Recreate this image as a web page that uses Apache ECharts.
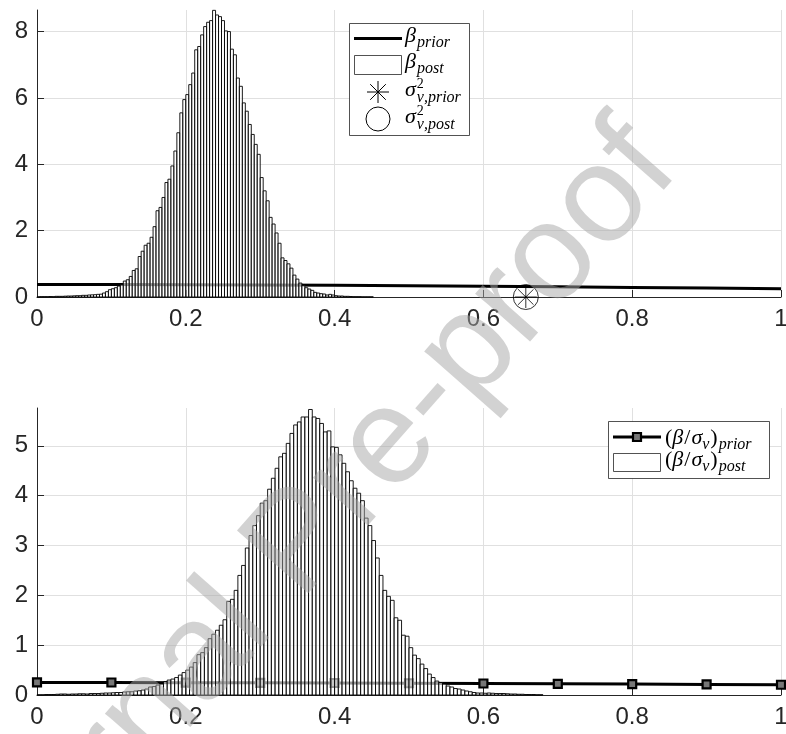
<!DOCTYPE html>
<html>
<head>
<meta charset="utf-8">
<script src="https://cdn.jsdelivr.net/npm/echarts@6/dist/echarts.min.js"></script>
<style>
html,body{margin:0;padding:0;background:#fff;}
#c{width:786px;height:734px;}
</style>
</head>
<body>
<div id="c"></div>
<script>
// ---------------- data ----------------
const xTickValues = [0, 0.2, 0.4, 0.6, 0.8, 1];
const yTickValuesTop = [0, 2, 4, 6, 8];
const yTickValuesBottom = [0, 1, 2, 3, 4, 5];

// top panel: posterior histogram of beta (bin width 0.004 starting at 0)
const betaPostBinStart = 0;
const betaPostBinWidth = 0.004;
const betaPostDensity = [
  0.005,0.01,0.01,0.01,0.015,0.01,0.02,0.02,0.02,0.025,
  0.03,0.03,0.035,0.04,0.04,0.05,0.05,0.06,0.065,0.07,
  0.08,0.085,
  0.12,0.16,0.22,0.25,0.28,0.33,0.37,0.48,0.52,0.62,
  0.8,0.85,1.22,1.38,1.56,1.62,1.8,2.12,2.6,2.7,
  3.0,3.45,3.55,
  3.95,4.4,4.95,5.55,5.95,6.1,6.4,6.75,7.45,7.55,
  7.9,8.15,8.28,8.33,8.64,8.5,8.45,8.33,8.02,8.0,
  7.47,7.3,6.6,6.35,5.85,5.6,5.2,4.9,4.6,4.3,
  3.6,3.2,2.9,2.4,2.2,1.93,1.62,1.18,1.1,1.0,
  0.87,0.66,0.54,0.42,0.35,0.28,0.24,0.2,0.14,0.12,
  0.1,0.09,0.06,0.08,0.06,0.04,0.03,0.03,0.02,0.02,
  0.015,0.01,0.01,0.01,0.005,0.005,0.005,0.005
];
// top panel: prior density of beta
const betaPriorX = [0, 0.1, 0.2, 0.3, 0.4, 0.5, 0.6, 0.7, 0.8, 0.9, 1];
const betaPriorDensity = [0.375,0.373,0.369,0.361,0.351,0.339,0.324,0.308,0.290,0.271,0.251];
// top panel: sigma^2 prior / posterior markers
const sigmaPriorPoint = [0.657, 0];
const sigmaPostPoint = [0.657, 0];

// bottom panel: posterior histogram of beta/sigma (bin width 0.005 starting at 0)
const ratioPostBinStart = 0;
const ratioPostBinWidth = 0.005;
const ratioPostDensity = [
  0.005,0.005,0.01,0.01,0.01,0.015,0.02,0.02,0.015,0.02,
  0.02,0.025,0.025,0.02,0.03,0.03,0.03,0.035,0.04,0.04,
  0.045,0.05,0.05,0.06,0.065,0.065,0.08,0.085,0.1,0.12,
  0.16,0.17,0.2,0.22,0.27,0.3,0.32,0.35,0.4,0.45,
  0.5,0.56,0.65,0.81,0.85,0.95,1.13,1.22,1.3,1.4,
  1.51,1.88,1.92,2.1,2.4,2.6,2.95,3.2,3.4,3.6,
  3.85,3.9,4.13,4.35,4.55,4.78,4.85,5.05,5.25,5.42,
  5.48,5.58,5.58,5.73,5.58,5.55,5.45,5.28,5.3,4.98,
  4.97,4.82,4.65,4.48,4.3,4.15,4.05,3.9,3.55,3.4,
  3.1,2.75,2.4,2.1,1.98,1.9,1.55,1.5,1.2,1.18,
  0.95,0.8,0.73,0.62,0.53,0.42,0.35,0.28,0.25,0.22,
  0.18,0.16,0.13,0.12,0.1,0.08,0.065,0.05,0.04,0.04,
  0.035,0.04,0.035,0.03,0.03,0.03,0.025,0.02,0.02,0.015,
  0.015,0.01,0.01,0.01,0.005,0.005
];
// bottom panel: prior of beta/sigma (square markers)
const ratioPriorX = [0, 0.1, 0.2, 0.3, 0.4, 0.5, 0.6, 0.7, 0.8, 0.9, 1];
const ratioPriorDensity = [0.253,0.251,0.248,0.245,0.241,0.236,0.231,0.225,0.219,0.213,0.206];

// ---------------- helpers ----------------
function histItems(start, width, vals) {
  return vals.map((v, i) => [start + i * width, start + (i + 1) * width, v]);
}
function pairs(xs, ys) { return xs.map((x, i) => [x, ys[i]]); }

const AX = '#262626';
const GRIDC = '#e0e0e0';
const LABEL_FONT = '"Liberation Sans", Arial, Helvetica, sans-serif';
const LABEL_SIZE = 24;

function xAxisCfg(idx) {
  return {
    type: 'value', gridIndex: idx, min: 0, max: 1,
    axisLine: { show: true, onZero: false, lineStyle: { color: AX, width: 1 } },
    axisTick: { show: true, inside: true, length: 7, customValues: xTickValues, lineStyle: { color: AX, width: 1 } },
    axisLabel: { show: true, customValues: xTickValues, fontSize: LABEL_SIZE, color: AX, fontFamily: LABEL_FONT, margin: 10 },
    splitLine: { show: true, lineStyle: { color: GRIDC, width: 1 } }
  };
}
function yAxisCfg(idx, max, ticks) {
  return {
    type: 'value', gridIndex: idx, min: 0, max: max,
    axisLine: { show: true, onZero: false, lineStyle: { color: AX, width: 1 } },
    axisTick: { show: true, inside: true, length: 7, customValues: ticks, lineStyle: { color: AX, width: 1 } },
    axisLabel: { show: true, customValues: ticks, fontSize: LABEL_SIZE, color: AX, fontFamily: LABEL_FONT, margin: 9 },
    splitLine: { show: true, lineStyle: { color: GRIDC, width: 1 } }
  };
}
function histRender(params, api) {
  const x0 = api.value(0), x1 = api.value(1), v = api.value(2);
  const p0 = api.coord([x0, v]);
  const p1 = api.coord([x1, 0]);
  return {
    type: 'rect',
    shape: { x: p0[0], y: p0[1], width: p1[0] - p0[0], height: p1[1] - p0[1] },
    style: { fill: 'rgba(255,255,255,0.6)', stroke: '#000', lineWidth: 0.9 }
  };
}

// math-like legend text laid out piece by piece
const mctx = document.createElement('canvas').getContext('2d');
const SERIF = '"Liberation Serif", "Times New Roman", serif';
function fontStr(p) { return (p.it === false ? '' : 'italic ') + p.size + 'px ' + SERIF; }
function measure(p) { mctx.font = fontStr(p); return mctx.measureText(p.t).width; }
function mathRun(parts, x0, base) {
  let x = x0;
  const els = [];
  parts.forEach(p => {
    const dx = p.dx || 0;
    els.push({
      type: 'text', x: x + dx, y: base + (p.dy || 0) - 0.34 * p.size, z: 60,
      style: { text: p.t, font: fontStr(p), fill: '#000', align: 'left', verticalAlign: 'middle' }
    });
    if (!p.stack) x += measure(p) + dx;
  });
  return els;
}

const M = 22, S = 16, SUP = 14;
const legendTop = [
  { type: 'rect', shape: { x: 349.5, y: 23.5, width: 120, height: 112 }, style: { fill: '#fff', stroke: AX, lineWidth: 0.8 }, z: 50 },
  { type: 'line', shape: { x1: 354, y1: 38.5, x2: 402, y2: 38.5 }, style: { stroke: '#000', lineWidth: 3 }, z: 60 },
  { type: 'rect', shape: { x: 354.5, y: 55.5, width: 47, height: 19 }, style: { fill: '#fff', stroke: AX, lineWidth: 0.8 }, z: 60 },
  { type: 'line', shape: { x1: 378, y1: 81, x2: 378, y2: 103 }, style: { stroke: '#000', lineWidth: 1 }, z: 60 },
  { type: 'line', shape: { x1: 367, y1: 92, x2: 389, y2: 92 }, style: { stroke: '#000', lineWidth: 1 }, z: 60 },
  { type: 'line', shape: { x1: 370.2, y1: 84.2, x2: 385.8, y2: 99.8 }, style: { stroke: '#000', lineWidth: 1 }, z: 60 },
  { type: 'line', shape: { x1: 370.2, y1: 99.8, x2: 385.8, y2: 84.2 }, style: { stroke: '#000', lineWidth: 1 }, z: 60 },
  { type: 'circle', shape: { cx: 378, cy: 119, r: 12 }, style: { fill: 'none', stroke: '#000', lineWidth: 1 }, z: 60 }
].concat(
  mathRun([{ t: 'β', size: M }, { t: 'prior', size: S, dy: 4, dx: 1 }], 405, 44),
  mathRun([{ t: 'β', size: M }, { t: 'post', size: S, dy: 4, dx: 1 }], 405, 70),
  mathRun([{ t: 'σ', size: M }, { t: '2', size: SUP, it: false, dy: -9, dx: 1, stack: true }, { t: 'ν,prior', size: S, dy: 5, dx: 1 }], 405, 98),
  mathRun([{ t: 'σ', size: M }, { t: '2', size: SUP, it: false, dy: -9, dx: 1, stack: true }, { t: 'ν,post', size: S, dy: 5, dx: 1 }], 405, 125)
);

const legendBottom = [
  { type: 'rect', shape: { x: 608.5, y: 421.5, width: 161, height: 57 }, style: { fill: '#fff', stroke: AX, lineWidth: 0.8 }, z: 50 },
  { type: 'line', shape: { x1: 613, y1: 437, x2: 661, y2: 437 }, style: { stroke: '#000', lineWidth: 3 }, z: 60 },
  { type: 'rect', shape: { x: 633, y: 433, width: 8, height: 8 }, style: { fill: '#777', stroke: '#000', lineWidth: 2.2 }, z: 61 },
  { type: 'rect', shape: { x: 613.5, y: 453.5, width: 47, height: 18 }, style: { fill: '#fff', stroke: AX, lineWidth: 0.8 }, z: 60 }
].concat(
  mathRun([{ t: '(', size: M, it: false }, { t: 'β', size: M }, { t: '/', size: M, it: false, dx: 1 }, { t: 'σ', size: M, dx: 1 },
           { t: 'ν', size: S, dy: 4 }, { t: ')', size: M, it: false, dx: 1 }, { t: 'prior', size: S, dy: 4, dx: 1 }], 665, 446),
  mathRun([{ t: '(', size: M, it: false }, { t: 'β', size: M }, { t: '/', size: M, it: false, dx: 1 }, { t: 'σ', size: M, dx: 1 },
           { t: 'ν', size: S, dy: 4 }, { t: ')', size: M, it: false, dx: 1 }, { t: 'post', size: S, dy: 4, dx: 1 }], 665, 468)
);

const watermark = {
  type: 'text', x: 300, y: 545, rotation: 48.6 * Math.PI / 180, z: 200,
  style: { text: 'Journal Pre-proof', font: '138px ' + LABEL_FONT, fill: 'rgba(165,165,165,0.5)', align: 'center', verticalAlign: 'middle' }
};

const option = {
  animation: false,
  backgroundColor: '#fff',
  grid: [
    { left: 37, right: 5, top: 10, height: 287, containLabel: false, outerBoundsMode: 'none' },
    { left: 37, right: 5, top: 408, height: 287, containLabel: false, outerBoundsMode: 'none' }
  ],
  xAxis: [xAxisCfg(0), xAxisCfg(1)],
  yAxis: [yAxisCfg(0, 8.65, yTickValuesTop), yAxisCfg(1, 5.76, yTickValuesBottom)],
  series: [
    {
      name: 'beta_prior', type: 'line', xAxisIndex: 0, yAxisIndex: 0, z: 2,
      data: pairs(betaPriorX, betaPriorDensity), showSymbol: false, symbol: 'none',
      lineStyle: { color: '#000', width: 3 }
    },
    {
      name: 'beta_post', type: 'custom', xAxisIndex: 0, yAxisIndex: 0, z: 3,
      data: histItems(betaPostBinStart, betaPostBinWidth, betaPostDensity),
      encode: { x: [0, 1], y: 2 }, renderItem: histRender
    },
    {
      name: 'sigma_prior', type: 'scatter', xAxisIndex: 0, yAxisIndex: 0, z: 5, clip: false,
      data: [sigmaPriorPoint],
      symbol: 'path://M0,-10L0,10M-10,0L10,0M-7.07,-7.07L7.07,7.07M-7.07,7.07L7.07,-7.07',
      symbolSize: 22,
      itemStyle: { color: 'none', borderColor: '#000', borderWidth: 1 }
    },
    {
      name: 'sigma_post', type: 'scatter', xAxisIndex: 0, yAxisIndex: 0, z: 5, clip: false,
      data: [sigmaPostPoint], symbol: 'circle', symbolSize: 25,
      itemStyle: { color: 'none', borderColor: '#000', borderWidth: 1 }
    },
    {
      name: 'ratio_prior', type: 'line', xAxisIndex: 1, yAxisIndex: 1, z: 2,
      data: pairs(ratioPriorX, ratioPriorDensity), symbol: 'rect', symbolSize: 8, showSymbol: true,
      lineStyle: { color: '#000', width: 3 },
      itemStyle: { color: '#777', borderColor: '#000', borderWidth: 2.2 }
    },
    {
      name: 'ratio_post', type: 'custom', xAxisIndex: 1, yAxisIndex: 1, z: 3,
      data: histItems(ratioPostBinStart, ratioPostBinWidth, ratioPostDensity),
      encode: { x: [0, 1], y: 2 }, renderItem: histRender
    }
  ],
  graphic: { elements: legendTop.concat(legendBottom, [watermark]) }
};

const chart = echarts.init(document.getElementById('c'), null, { renderer: 'canvas', width: 786, height: 734 });
chart.setOption(option);
</script>
</body>
</html>
